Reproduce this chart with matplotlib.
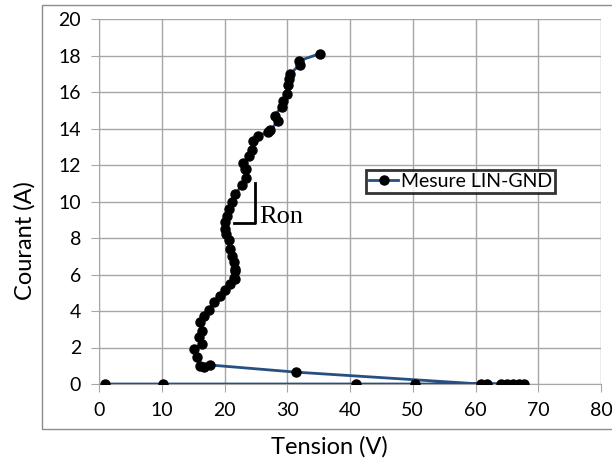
import matplotlib

matplotlib.use("Agg")

import matplotlib.pyplot as plt
from matplotlib.patches import Rectangle

# Mesure LIN-GND, in acquisition order (off-state sweep, snapback, then on-state)
tension_v = [
    1.0, 10.2, 40.9, 50.3, 67.8, 67.0, 66.0, 65.0, 64.0, 61.8, 60.8,
    31.4, 17.7, 16.7, 16.1, 15.6, 15.1, 16.4, 16.0, 16.4, 16.1, 16.7,
    17.5, 18.3, 19.3, 20.0, 20.9, 21.6, 21.7, 21.5, 21.6, 21.5, 21.2,
    20.9, 20.7, 20.3, 20.0, 20.1, 20.4, 20.7, 21.2, 21.7, 22.8, 23.5,
    23.5, 23.2, 23.0, 23.9, 24.4, 24.6, 25.3, 26.9, 27.3, 28.5, 28.0,
    29.1, 29.3, 30.0, 30.1, 30.2, 30.5, 32.0, 31.8, 35.2,
]
courant_a = [
    0.0, 0.0, 0.0, 0.0, 0.0, 0.0, 0.0, 0.0, 0.0, 0.0, 0.0,
    0.65, 1.04, 0.93, 0.99, 1.5, 1.9, 2.2, 2.6, 2.9, 3.4, 3.7,
    4.05, 4.5, 4.8, 5.15, 5.5, 5.75, 6.2, 6.7, 6.3, 5.8, 7.0,
    7.4, 7.9, 8.2, 8.5, 8.9, 9.2, 9.6, 9.96, 10.4, 10.9, 11.3,
    11.8, 11.8, 12.1, 12.5, 12.8, 13.3, 13.6, 13.8, 13.9, 14.4, 14.7,
    15.2, 15.5, 15.9, 16.4, 16.7, 17.0, 17.5, 17.7, 18.1,
]

x_ticks = [0, 10, 20, 30, 40, 50, 60, 70, 80]
y_ticks = [0, 2, 4, 6, 8, 10, 12, 14, 16, 18, 20]

plt.rcParams["font.family"] = ["Lato", "DejaVu Sans"]

fig = plt.figure(figsize=(6.12, 4.61), dpi=100)
ax = fig.add_axes([99 / 612, 1 - 384 / 461, 502 / 612, 365 / 461])

ax.plot(tension_v, courant_a, color="#264f82", linewidth=2.0,
        marker="o", markersize=6.5, markerfacecolor="black",
        markeredgecolor="black", label="Mesure LIN-GND", zorder=3)

ax.set_xlim(0, 80)
ax.set_ylim(0, 20)
ax.set_xticks(x_ticks)
ax.set_yticks(y_ticks)
ax.grid(True, color="#a6a6a6", linewidth=1.0)
ax.set_axisbelow(True)
for side in ("top", "right"):
    ax.spines[side].set_visible(False)
for side in ("left", "bottom"):
    ax.spines[side].set_color("#a6a6a6")
ax.tick_params(axis="both", length=6, color="#a6a6a6", labelsize=14)
ax.tick_params(axis="y", pad=7)
ax.tick_params(axis="x", pad=7)

ax.set_xlabel("Tension (V)", fontsize=17, va="center")
ax.set_ylabel("Courant (A)", fontsize=17, va="center")
ax.xaxis.set_label_coords((329 - 99) / 502, (384 - 447) / 365)
ax.yaxis.set_label_coords((25 - 99) / 502, (384 - 241) / 365)

# Ron slope marker
ax.plot([24.8, 24.8, 21.45], [11.0, 8.8, 8.8], color="black", linewidth=2.0, zorder=4)
ax.text(25.5, 8.8, "Ron", family="Liberation Serif", fontsize=19,
        ha="left", va="baseline")

leg = ax.legend(loc="upper left", bbox_to_anchor=(267 / 502, 1 - 151 / 365),
                fontsize=14, frameon=True, fancybox=False, borderpad=0.15,
                handlelength=1.5, handletextpad=0.15, borderaxespad=0)
leg.get_frame().set_edgecolor("black")
leg.get_frame().set_linewidth(2.0)

fig.patches.append(Rectangle((41.5 / 612, 1 - 429 / 461), 0.99, 424 / 461,
                             transform=fig.transFigure, fill=False,
                             edgecolor="#8c8c8c", linewidth=1.0))

fig.savefig("out.png", dpi=100)
